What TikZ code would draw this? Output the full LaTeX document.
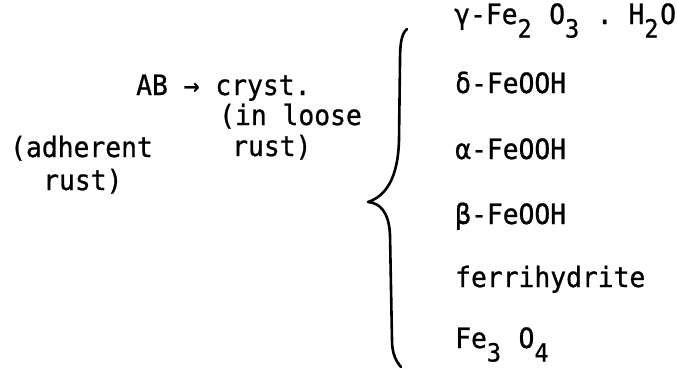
\documentclass[tikz,border=0pt]{standalone}
\usepackage{fontspec}
\setmainfont{DejaVu Sans Mono}[FakeStretch=0.94, BoldFont={DejaVu Sans Mono}, BoldFeatures={FakeBold=0.8}]
\newcommand{\lowr}[1]{\raisebox{-13.5pt}{\makebox[15.85pt][l]{\fontsize{25}{25}\selectfont #1}}}
\begin{document}
\frenchspacing
\begin{tikzpicture}[x=1pt,y=-1pt,
  txt/.style={anchor=base west, inner sep=0pt, font=\fontsize{28}{30}\selectfont\bfseries},
  bracepath/.style={line width=2.6pt, line cap=round, line join=round}]
\useasboundingbox (0,0) rectangle (677,368);
% left part
\node[txt] (ab) at (136,95) {AB → cryst.};
\node[txt] (loose) at (219,125) {(in loose};
\node[txt] (rustA) at (232,156) {rust)};
\node[txt] (adh) at (10,157) {(adherent};
\node[txt] (rustB) at (43,190) {rust)};
% brace
\coordinate (btop) at (407,29);
\coordinate (btip) at (368,202);
\coordinate (bbot) at (401,367);
\draw[bracepath] (btop) .. controls (401,34) and (400,45) .. (400,62)
  -- (399,140) .. controls (398,178) and (386,196) .. (btip)
  .. controls (380,203) and (389,212) .. (390,235)
  -- (392,340) .. controls (392,354) and (396,361) .. (bbot);
% right column
\node[txt] (gam) at (454,24) {γ-Fe\lowr{2} O\lowr{3} . H\lowr{2}O};
\node[txt] (del) at (455,93) {δ-FeOOH};
\node[txt] (alp) at (455,159) {α-FeOOH};
\node[txt] (bet) at (455,224) {β-FeOOH};
\node[txt] (fer) at (455,287) {ferrihydrite};
\node[txt] (mag) at (455,348) {Fe\lowr{3} O\lowr{4}};
\end{tikzpicture}
\end{document}
